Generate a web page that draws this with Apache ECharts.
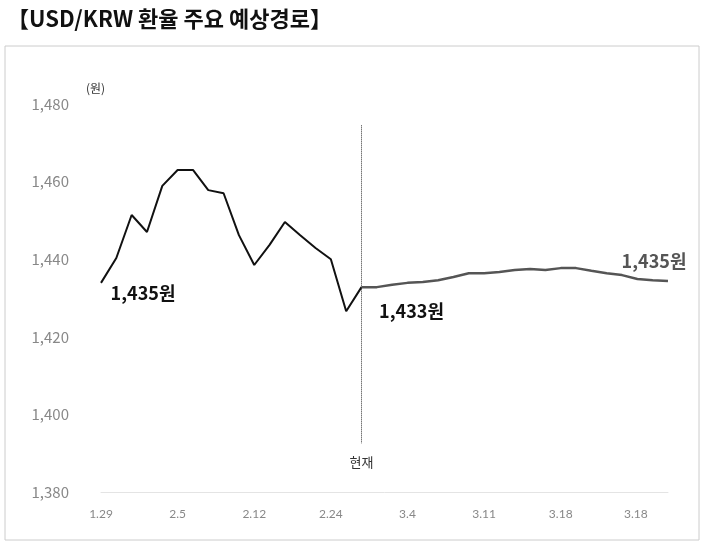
<!DOCTYPE html>
<html><head><meta charset="utf-8">
<script src="https://cdn.jsdelivr.net/npm/echarts@6/dist/echarts.min.js"></script>
<style>body{margin:0;background:#fff}#main{width:705px;height:545px}</style>
</head><body><div id="main"></div>
<script>
// 카테고리 (5개마다 라벨)
var dates = ['1.29','','','','','2.5','','','','','2.12','','','','','2.24','','','','','3.4','','','','','3.11','','','','','3.18','','','','','3.18 ','',''];
// 실제 환율
var actual = [1433.9,1440.3,1451.4,1447,1458.9,1463,1463,1457.8,1457,1446.2,1438.5,1443.7,1449.6,1446.2,1442.9,1440,1426.6,1432.8];
// 예상경로
var forecast = [1432.8,1432.8,1433.4,1433.9,1434.1,1434.6,1435.4,1436.4,1436.4,1436.7,1437.2,1437.5,1437.2,1437.7,1437.7,1437,1436.4,1435.9,1434.9,1434.6,1434.4];

var nowIdx = actual.length - 1;
var actualData = actual.slice();
var forecastData = [];
for (var i = 0; i < dates.length; i++) {
    forecastData.push(i >= nowIdx && i - nowIdx < forecast.length ? forecast[i - nowIdx] : '-');
}

var myChart = echarts.init(document.getElementById('main'));
var font = "'Noto Sans CJK KR', 'Noto Sans', sans-serif";
option = {
    animation: false,
    textStyle: {fontFamily: font},
    title: {
        text: '【USD/KRW 환율 주요 예상경로】',
        left: 2, top: 3,
        textStyle: {fontSize: 22, fontWeight: 'bold', color: '#111', fontFamily: font}
    },
    graphic: [
        {type: 'rect', shape: {x: 5, y: 46, width: 694, height: 494},
         style: {fill: 'none', stroke: '#ccc', lineWidth: 1}},
        {type: 'text', left: 86, top: 82, style: {text: '(원)', fontSize: 12, fill: '#333', fontFamily: font}}
    ],
    grid: {left: 101, right: 37, top: 104, bottom: 53, containLabel: false},
    xAxis: {
        type: 'category', data: dates, boundaryGap: false,
        axisLine: {lineStyle: {color: '#e4e4e4'}},
        axisTick: {show: false},
        axisLabel: {interval: 0, color: '#888', fontSize: 12, margin: 16, fontFamily: 'Lato'}
    },
    yAxis: {
        type: 'value', min: 1380, max: 1480, interval: 20,
        splitLine: {show: false},
        axisLabel: {color: '#888', fontSize: 15, margin: 32,
            formatter: function (v) { return v.toLocaleString('en-US'); }}
    },
    series: [
        {
            type: 'line', data: actualData, symbol: 'none',
            lineStyle: {color: '#111', width: 2},
            markPoint: {
                symbol: 'circle', symbolSize: 0,
                label: {show: true, color: '#111', fontSize: 18, fontWeight: 'bold', formatter: '{b}'},
                data: [{name: '1,435원', coord: [0, actual[0]], label: {offset: [42, 10]}},
                       {name: '1,433원', coord: [nowIdx, actual[nowIdx]], label: {offset: [50, 24]}}]
            },
            markLine: {
                symbol: 'none', silent: true,
                lineStyle: {color: '#333', type: 'dotted', width: 1},
                label: {show: true, position: 'end', formatter: '현재', color: '#333', fontSize: 13, distance: 12},
                data: [[{coord: [nowIdx, 1474.5]}, {coord: [nowIdx, 1392.5]}]]
            }
        },
        {
            type: 'line', data: forecastData, symbol: 'none',
            lineStyle: {color: '#555', width: 2.5},
            markPoint: {
                symbol: 'circle', symbolSize: 0,
                label: {show: true, color: '#555', fontSize: 18, fontWeight: 'bold', formatter: '{b}'},
                data: [{name: '1,435원', coord: [nowIdx + forecast.length - 1, forecast[forecast.length - 1]], label: {offset: [-14, -20]}}]
            }
        }
    ]
};
myChart.setOption(option);
</script>
</body></html>
